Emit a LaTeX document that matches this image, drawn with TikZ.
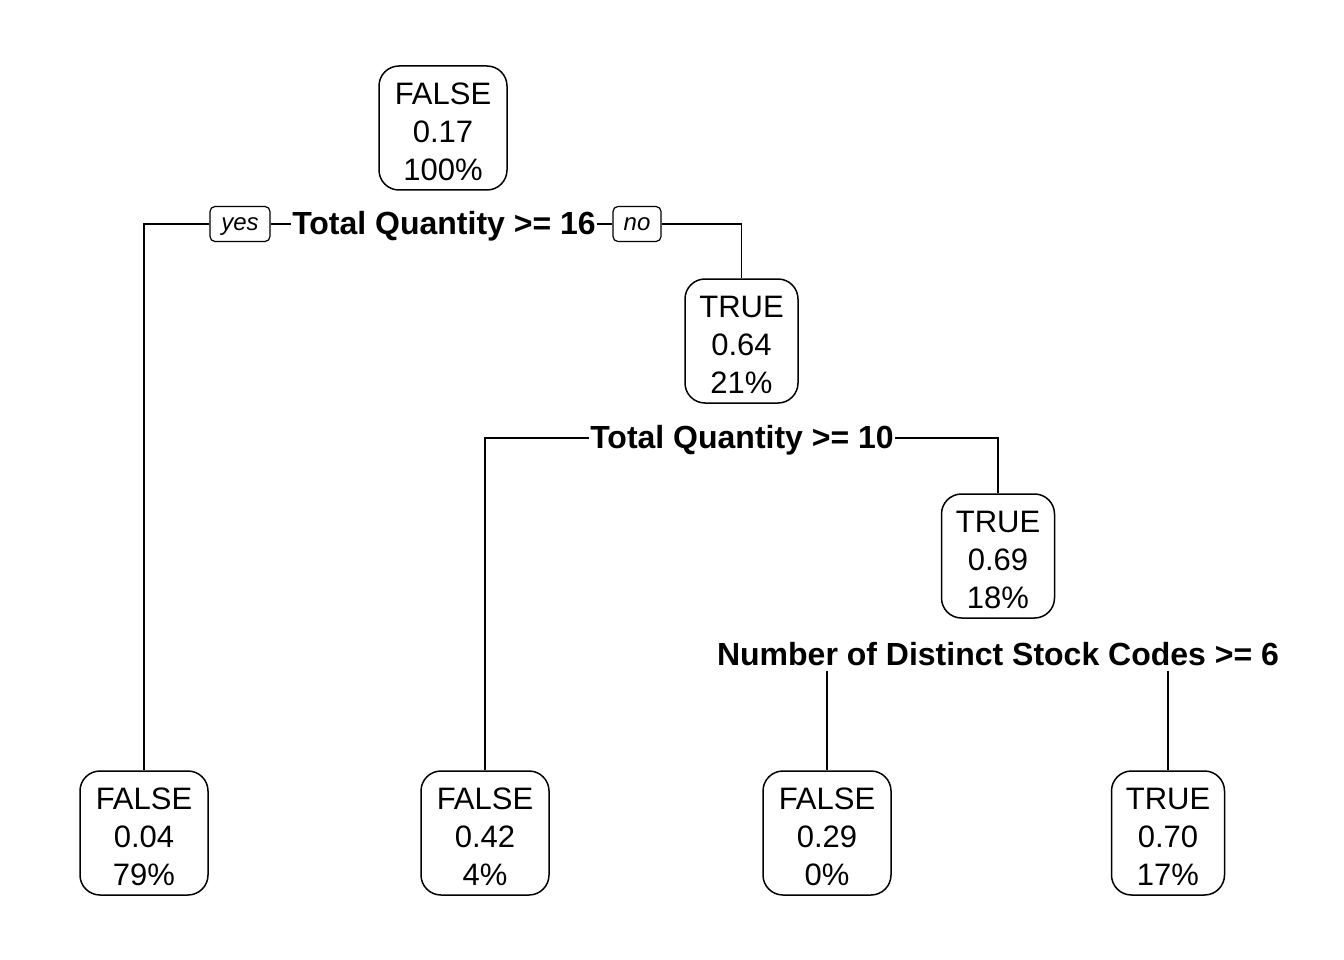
\documentclass[tikz,border=0pt]{standalone}
\usepackage{fontspec}
\setmainfont{Liberation Sans}
\newcommand\firststrut{\rule{0pt}{29pt}}
\begin{document}
\begin{tikzpicture}[x=1pt,y=-1pt,
  leaf/.style={draw,line width=1.5pt,rounded corners=20pt,inner sep=0pt,
    minimum height=124pt,align=center,font=\fontsize{31}{38}\selectfont},
  wide/.style={leaf,minimum width=128pt},
  narrow/.style={leaf,minimum width=113pt},
  split/.style={fill=white,inner sep=1pt,font=\fontsize{32}{38}\selectfont\bfseries},
  yn/.style={draw,fill=white,line width=1.2pt,rounded corners=5pt,inner sep=0pt,
    minimum height=35pt,text height=17pt,text depth=5pt,
    font=\fontsize{24}{28}\selectfont\itshape},
  conn/.style={line width=1.3pt}]
\useasboundingbox (0,0) rectangle (1344,960);
% nodes
\node[wide]   (n1) at (443,128) {\firststrut FALSE\\0.17\\100\%};
\node[narrow] (n2) at (741.5,341) {\firststrut TRUE\\0.64\\21\%};
\node[narrow] (n3) at (998,556) {\firststrut TRUE\\0.69\\18\%};
\node[wide]   (l1) at (144,833) {\firststrut FALSE\\0.04\\79\%};
\node[wide]   (l2) at (485,833) {\firststrut FALSE\\0.42\\4\%};
\node[wide]   (l3) at (827,833) {\firststrut FALSE\\0.29\\0\%};
\node[narrow] (l4) at (1168,833) {\firststrut TRUE\\0.70\\17\%};
% split labels
\node[split] (s1) at (444,226) {Total Quantity >= 16};
\node[split] (s2) at (742,440) {Total Quantity >= 10};
\node[split] (s3) at (998,654) {Number of Distinct Stock Codes >= 6};
\node[yn,minimum width=60pt] (yes) at (240,224) {yes};
\node[yn,minimum width=48pt] (no) at (637,224) {no};
\coordinate (c3l) at (827,671);
\coordinate (c3r) at (1168,671);
% connectors
\draw[conn] (yes.west) -| (l1.north);
\draw[conn] (yes.east) -- (yes.east -| s1.west);
\draw[conn] (no.west -| s1.east) -- (no.west);
\draw[conn] (no.east) -| (n2.north);
\draw[conn] (s2.west |- 0,438) -| (l2.north);
\draw[conn] (s2.east |- 0,438) -| (n3.north);
\draw[conn] (c3l) -- (l3.north);
\draw[conn] (c3r) -- (l4.north);
\end{tikzpicture}
\end{document}
